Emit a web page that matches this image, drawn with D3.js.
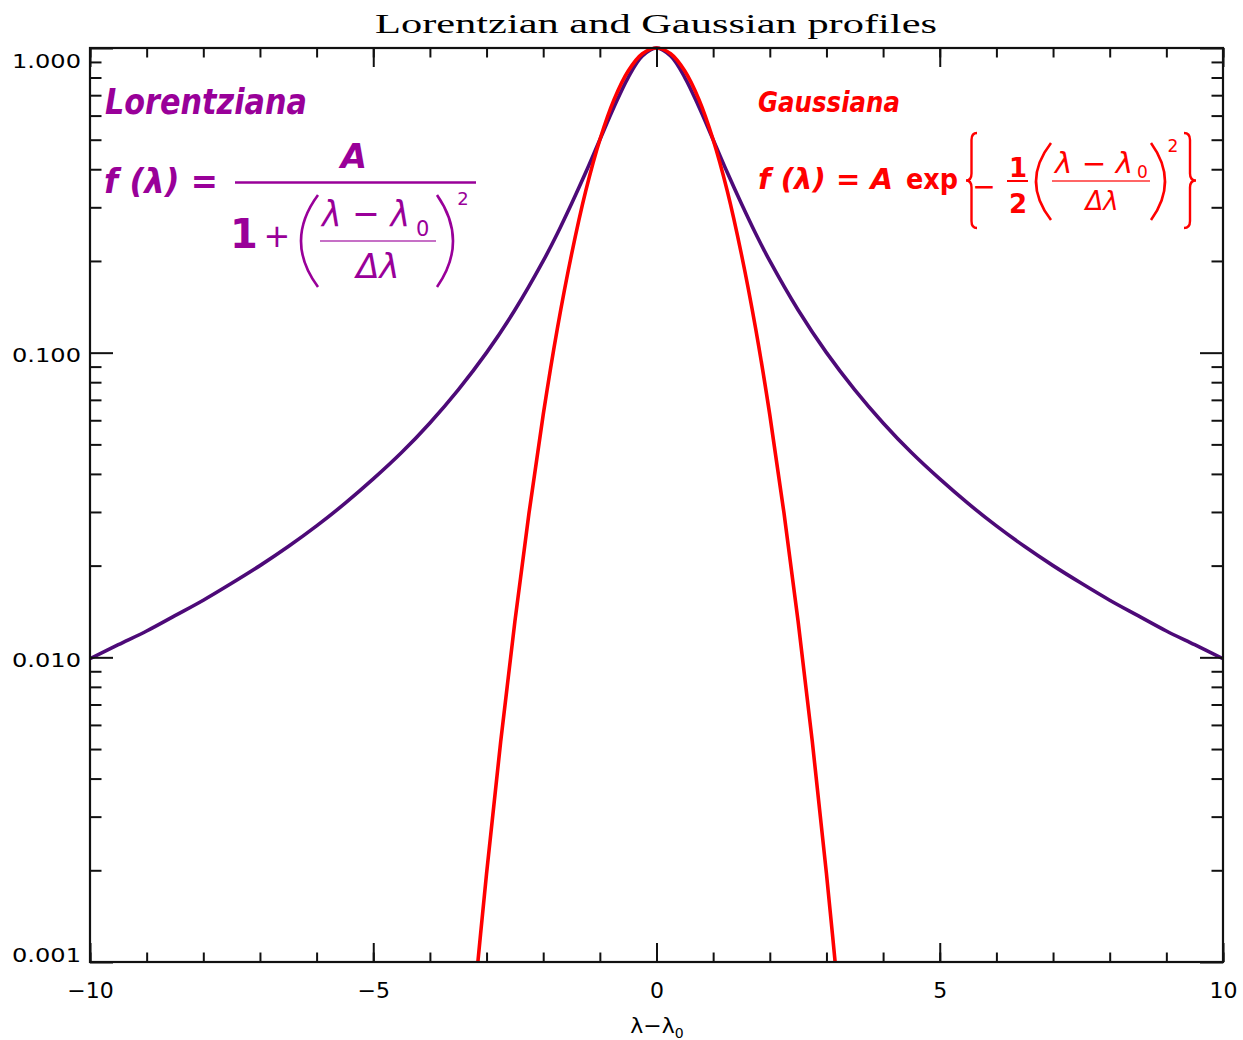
<!DOCTYPE html>
<html>
<head>
<meta charset="utf-8">
<script src="https://cdn.jsdelivr.net/npm/d3@7"></script>
<style>
  html, body { margin: 0; padding: 0; background: #fff; }
  svg { display: block; }
</style>
</head>
<body>
<svg id="chart" width="1243" height="1040"></svg>
<script>
// Tick values and labels
const xMajorTicks = [-10, -5, 0, 5, 10];
const xTickLabels = ["\u221210", "\u22125", "0", "5", "10"];
const xMinorTicks = d3.range(-10, 11, 1);
const yMajorTicks = [1, 0.1, 0.01, 0.001];
const yTickLabels = ["1.000", "0.100", "0.010", "0.001"];
const yMinorTicks = [0.002,0.003,0.004,0.005,0.006,0.007,0.008,0.009,
                     0.02,0.03,0.04,0.05,0.06,0.07,0.08,0.09,
                     0.2,0.3,0.4,0.5,0.6,0.7,0.8,0.9];

// Lorentzian profile samples
const lorentzX = [-10,-9.5,-9,-8.5,-8,-7.5,-7,-6.5,-6,-5.5,-5,-4.5,-4,-3.5,-3,-2.5,
                  -2,-1.75,-1.5,-1.25,-1,-0.75,-0.5,-0.25,0,
                  0.25,0.5,0.75,1,1.25,1.5,1.75,2,
                  2.5,3,3.5,4,4.5,5,5.5,6,6.5,7,7.5,8,8.5,9,9.5,10];
const lorentzY = [0.0099,0.011,0.0122,0.0137,0.0154,0.0175,0.02,0.0231,0.027,0.032,0.0385,0.047,0.0588,0.0755,0.1,0.138,
                  0.2,0.246,0.308,0.39,0.5,0.64,0.8,0.941,1,
                  0.941,0.8,0.64,0.5,0.39,0.308,0.246,0.2,
                  0.138,0.1,0.0755,0.0588,0.047,0.0385,0.032,0.027,0.0231,0.02,0.0175,0.0154,0.0137,0.0122,0.011,0.0099];

// Gaussian profile samples
const gaussX = [-3.25,-3,-2.75,-2.5,-2.25,-2,-1.75,-1.5,-1.25,-1,-0.75,-0.5,-0.25,0,
                0.25,0.5,0.75,1,1.25,1.5,1.75,2,2.25,2.5,2.75,3,3.25];
const gaussY = [0.00065,0.00195,0.0053,0.0131,0.0298,0.0625,0.12,0.21,0.339,0.5,0.677,0.841,0.958,1,
                0.958,0.841,0.677,0.5,0.339,0.21,0.12,0.0625,0.0298,0.0131,0.0053,0.00195,0.00065];

const plot = { left: 90, right: 1223, top: 48, bottom: 962 };
const svg = d3.select("#chart");

const x = d3.scaleLinear().domain([-10, 10]).range([plot.left, plot.right]);
const y = d3.scaleLog().domain([0.001, 1]).range([plot.bottom, plot.top]);

const axisColor = "#111";
const tickFont = "'DejaVu Sans', sans-serif";

// clip for the curves
svg.append("defs").append("clipPath").attr("id", "plotclip")
  .append("rect")
  .attr("x", plot.left).attr("y", plot.top - 4)
  .attr("width", plot.right - plot.left).attr("height", plot.bottom - plot.top + 4);

// Curves
const line = d3.line().curve(d3.curveCatmullRom.alpha(0.5));
const curves = svg.append("g").attr("clip-path", "url(#plotclip)");
curves.append("path")
  .attr("d", line(lorentzX.map((v, i) => [x(v), y(lorentzY[i])])))
  .attr("fill", "none").attr("stroke", "#4d0a78").attr("stroke-width", 3.6)
  .attr("stroke-linejoin", "round");
curves.append("path")
  .attr("d", line(gaussX.map((v, i) => [x(v), y(gaussY[i])])))
  .attr("fill", "none").attr("stroke", "#ff0000").attr("stroke-width", 3.6)
  .attr("stroke-linejoin", "round");

// Axes: ticks drawn inward on all four sides
function styleAxis(g) {
  g.select(".domain").remove();
  g.selectAll(".tick line").attr("stroke", axisColor).attr("stroke-width", 2);
}
const xMajLen = 19, xMinLen = 9.5, yMajLen = 23, yMinLen = 11.5;

svg.append("g").attr("transform", `translate(0,${plot.bottom})`)
  .call(d3.axisBottom(x).tickValues(xMinorTicks).tickSizeInner(-xMinLen).tickSizeOuter(0).tickFormat(""))
  .call(styleAxis);
const xb = svg.append("g").attr("transform", `translate(0,${plot.bottom})`)
  .call(d3.axisBottom(x).tickValues(xMajorTicks).tickSizeInner(-xMajLen).tickSizeOuter(0).tickPadding(20)
        .tickFormat((d, i) => xTickLabels[i]))
  .call(styleAxis);
xb.selectAll(".tick text").attr("font-family", tickFont).attr("font-size", 22).attr("fill", "#000");

svg.append("g").attr("transform", `translate(0,${plot.top})`)
  .call(d3.axisTop(x).tickValues(xMinorTicks).tickSizeInner(-xMinLen).tickSizeOuter(0).tickFormat(""))
  .call(styleAxis);
svg.append("g").attr("transform", `translate(0,${plot.top})`)
  .call(d3.axisTop(x).tickValues(xMajorTicks).tickSizeInner(-xMajLen).tickSizeOuter(0).tickFormat(""))
  .call(styleAxis);

svg.append("g").attr("transform", `translate(${plot.left},0)`)
  .call(d3.axisLeft(y).tickValues(yMinorTicks).tickSizeInner(-yMinLen).tickSizeOuter(0).tickFormat(""))
  .call(styleAxis);
const yl = svg.append("g").attr("transform", `translate(${plot.left},0)`)
  .call(d3.axisLeft(y).tickValues(yMajorTicks).tickSizeInner(-yMajLen).tickSizeOuter(0).tickPadding(9)
        .tickFormat((d, i) => yTickLabels[i]))
  .call(styleAxis);
// labels are kept inside the vertical extent of the frame
yl.selectAll(".tick text")
  .attr("font-family", tickFont).attr("font-size", 20).attr("fill", "#000")
  .attr("textLength", 69).attr("lengthAdjust", "spacingAndGlyphs")
  .attr("dy", null)
  .attr("y", d => {
    const py = y(d);
    const c = Math.max(plot.top + 12, Math.min(plot.bottom - 8, py + 2));
    return c - py + 7;
  });

svg.append("g").attr("transform", `translate(${plot.right},0)`)
  .call(d3.axisRight(y).tickValues(yMinorTicks).tickSizeInner(-yMinLen).tickSizeOuter(0).tickFormat(""))
  .call(styleAxis);
svg.append("g").attr("transform", `translate(${plot.right},0)`)
  .call(d3.axisRight(y).tickValues(yMajorTicks).tickSizeInner(-yMajLen).tickSizeOuter(0).tickFormat(""))
  .call(styleAxis);

// Frame
svg.append("rect")
  .attr("x", plot.left).attr("y", plot.top)
  .attr("width", plot.right - plot.left).attr("height", plot.bottom - plot.top)
  .attr("fill", "none").attr("stroke", axisColor).attr("stroke-width", 2.2);

// Title
svg.append("text")
  .attr("x", 656).attr("y", 33).attr("text-anchor", "middle")
  .attr("font-family", "'Liberation Serif', serif").attr("font-size", 27)
  .attr("textLength", 562).attr("lengthAdjust", "spacingAndGlyphs")
  .attr("fill", "#000").text("Lorentzian and Gaussian profiles");

// X axis title
const xt = svg.append("text")
  .attr("x", 657).attr("y", 1033).attr("text-anchor", "middle")
  .attr("font-family", tickFont).attr("font-size", 22).attr("fill", "#000");
xt.append("tspan").text("\u03bb\u2212\u03bb");
xt.append("tspan").attr("font-size", 14).attr("dy", 5).text("0");

// Formula helpers
const formulaFont = "'DejaVu Sans', sans-serif";
function txt(g, s, px, py, size, opts = {}) {
  const t = g.append("text")
    .attr("x", px).attr("y", py)
    .attr("font-family", formulaFont).attr("font-size", size)
    .attr("font-weight", opts.weight || "bold")
    .attr("font-style", opts.style || "oblique")
    .attr("text-anchor", opts.anchor || "start")
    .text(s);
  if (opts.len) t.attr("textLength", opts.len).attr("lengthAdjust", "spacingAndGlyphs");
  return t;
}
function hbar(g, x0, x1, yy, w, op = 1) {
  g.append("line").attr("x1", x0).attr("x2", x1).attr("y1", yy).attr("y2", yy)
    .attr("stroke-width", w).attr("stroke-opacity", op);
}
function paren(g, xL, xR, y0, y1, open) {
  const ym = (y0 + y1) / 2;
  const d = open
    ? `M${xR},${y0} Q${2 * xL - xR},${ym} ${xR},${y1}`
    : `M${xL},${y0} Q${2 * xR - xL},${ym} ${xL},${y1}`;
  g.append("path").attr("d", d).attr("fill", "none").attr("stroke-width", 2.6);
}
function brace(g, xL, xR, y0, y1, open) {
  const ym = (y0 + y1) / 2, r = 7;
  const xm = (xL + xR) / 2;
  const tip = open ? xL : xR, end = open ? xR : xL;
  const d = `M${end},${y0} Q${xm},${y0} ${xm},${y0 + r} L${xm},${ym - r} Q${xm},${ym} ${tip},${ym}` +
            ` Q${xm},${ym} ${xm},${ym + r} L${xm},${y1 - r} Q${xm},${y1} ${end},${y1}`;
  g.append("path").attr("d", d).attr("fill", "none").attr("stroke-width", 2.4);
}

// Lorentzian label and formula
const lc = "#990099";
const gl = svg.append("g").attr("fill", "none").attr("stroke", lc);
const glt = svg.append("g").attr("fill", lc);
txt(glt, "Lorentziana", 105, 114, 35, { len: 202 });
txt(glt, "f (\u03bb) =", 104, 193, 33, { len: 114 });
txt(glt, "A", 354, 168, 34, { anchor: "middle" });
hbar(gl, 235, 476, 182.5, 2.5);
txt(glt, "1", 244, 248, 40, { anchor: "middle", style: "normal" });
txt(glt, "+", 277, 247, 32, { anchor: "middle", weight: "normal", style: "normal" });
paren(gl, 301, 318, 195, 287, true);
txt(glt, "\u03bb \u2212 \u03bb", 322, 226, 36, { weight: "normal", len: 88 });
txt(glt, "0", 416, 236, 21, { weight: "normal", style: "normal" });
hbar(gl, 320, 436, 241, 1.6, 0.75);
txt(glt, "\u0394\u03bb", 378, 278, 34, { anchor: "middle", weight: "normal" });
paren(gl, 437, 453, 195, 287, false);
txt(glt, "2", 463, 205, 18, { anchor: "middle", weight: "normal", style: "normal" });

// Gaussian label and formula
const gc = "#ff0000";
const gg = svg.append("g").attr("fill", "none").attr("stroke", gc);
const ggt = svg.append("g").attr("fill", gc);
txt(ggt, "Gaussiana", 758, 112, 29, { len: 142 });
txt(ggt, "f (\u03bb) = A", 758, 189, 28, { len: 135 });
txt(ggt, "exp", 906, 189, 28, { style: "normal", len: 52 });
brace(gg, 966, 977, 133, 228, true);
txt(ggt, "\u2212", 984, 196, 28, { anchor: "middle", weight: "normal", style: "normal" });
txt(ggt, "1", 1018, 177, 26, { anchor: "middle", style: "normal" });
hbar(gg, 1007, 1028, 181, 2);
txt(ggt, "2", 1018, 213, 26, { anchor: "middle", style: "normal" });
paren(gg, 1036, 1051, 143, 220, true);
txt(ggt, "\u03bb \u2212 \u03bb", 1055, 173, 28, { weight: "normal", len: 78 });
txt(ggt, "0", 1137, 178, 17, { weight: "normal", style: "normal" });
hbar(gg, 1052, 1150, 181, 1.6, 0.8);
txt(ggt, "\u0394\u03bb", 1102, 210, 26, { anchor: "middle", weight: "normal" });
paren(gg, 1151, 1165, 143, 220, false);
txt(ggt, "2", 1173, 152, 17, { anchor: "middle", weight: "normal", style: "normal" });
brace(gg, 1184, 1196, 133, 228, false);
</script>
</body>
</html>
